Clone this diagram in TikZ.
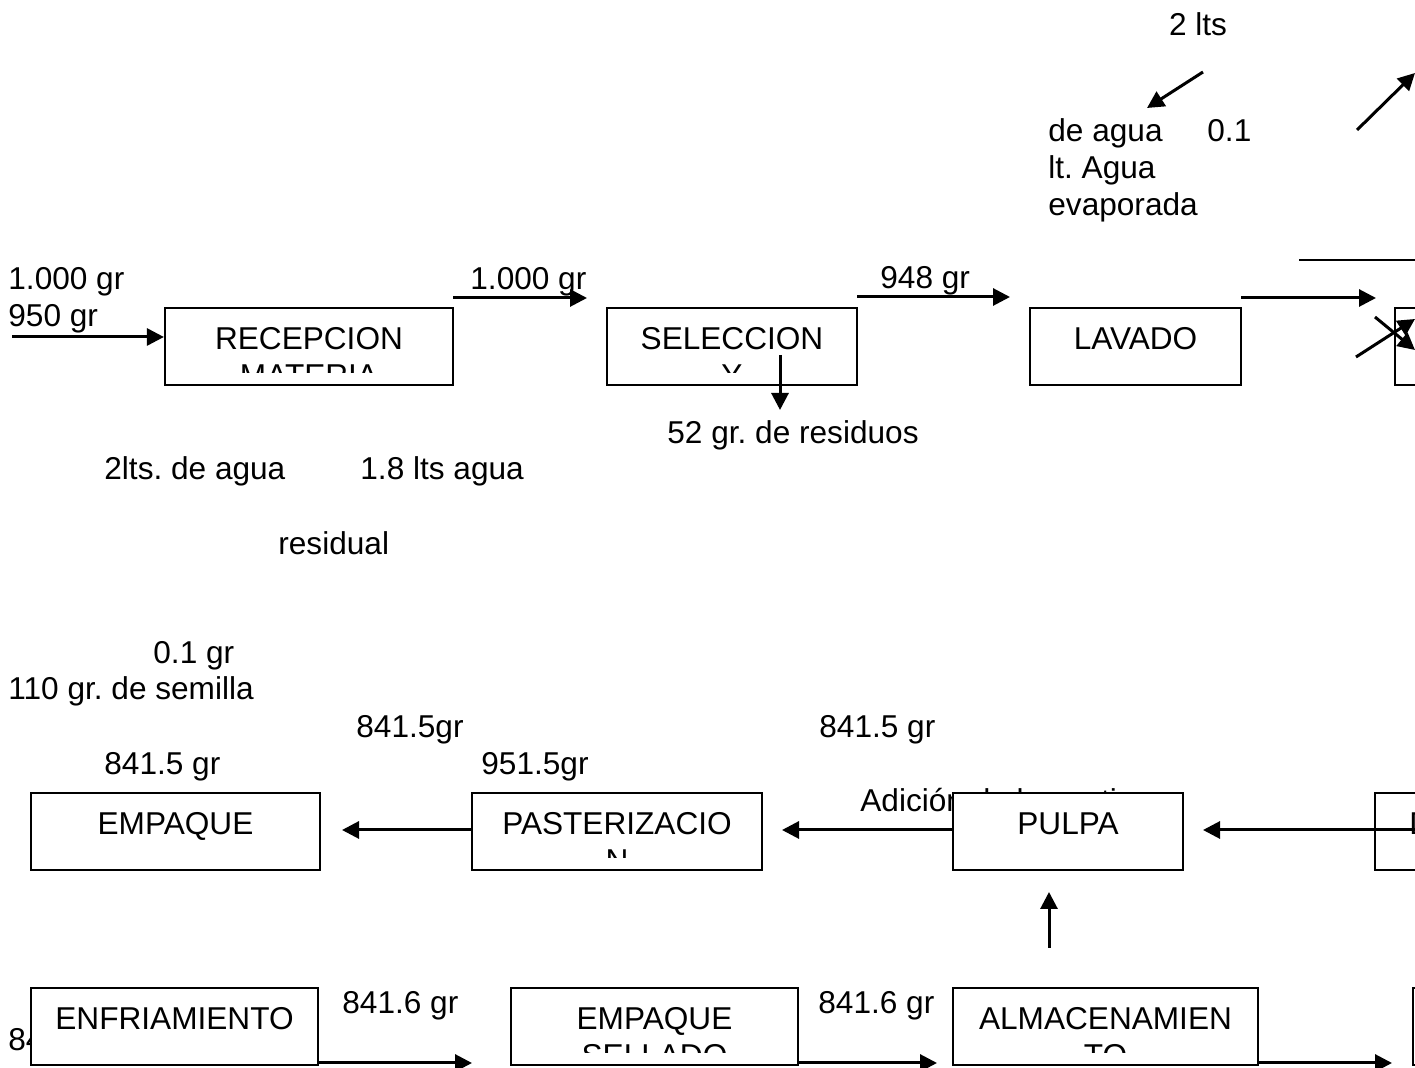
\documentclass[tikz,border=0pt]{standalone}
\usepackage{fontspec}
\setmainfont{Liberation Sans}
\usetikzlibrary{arrows.meta,fit}
\frenchspacing
\begin{document}
\begin{tikzpicture}[x=0.5pt,y=-0.5pt,
  lbl/.style={inner sep=0pt, font=\fontsize{15.8pt}{18.3pt}\selectfont},
  box/.style={draw, line width=1.1pt, fill=white, inner sep=0pt},
  flow/.style={line width=1.5pt, -{Triangle[length=8.5pt,width=8.5pt]}},
  plain/.style={line width=1.1pt}]
\useasboundingbox (0,0) rectangle (1415,1068);

% ---------- top texts ----------
\node[lbl, anchor=base] (t2lts) at (1198,36) {2 lts};
\node[lbl, anchor=base west] (tdeagua) at (1048,142) {de agua};
\node[lbl, anchor=base west] (t01) at (1207,142) {0.1};
\node[lbl, anchor=base west] (tltagua) at (1048,179) {lt. Agua};
\node[lbl, anchor=base west] (tevap) at (1048,216) {evaporada};

\node[lbl, anchor=base west] (tin1) at (8,290) {1.000 gr};
\node[lbl, anchor=base west] (tin2) at (8,327) {950 gr};
\node[lbl, anchor=base west] (t1000) at (470,290) {1.000 gr};
\node[lbl, anchor=base west] (t948) at (880,289) {948 gr};
\node[lbl, anchor=base] (tres) at (793,444) {52 gr. de residuos};
\node[lbl, anchor=base west] (t2ltsagua) at (104,480) {2lts. de agua};
\node[lbl, anchor=base west] (t18) at (360,480) {1.8 lts agua};
\node[lbl, anchor=base west] (tresid) at (278,555) {residual};

% ---------- top row boxes ----------
\node[box, fit={(165,308) (453,385)}] (recep) {};
\node[lbl, anchor=base] at (309,350) {RECEPCION};
\begin{scope}\clip (165,308) rectangle (453,373);
\node[lbl, anchor=base] at (309,386.5) {MATERIA};\end{scope}

\node[box, fit={(607,308) (857,385)}] (selec) {};
\node[lbl, anchor=base] at (732,350) {SELECCION};
\begin{scope}\clip (607,308) rectangle (857,373);
\node[lbl, anchor=base] at (732,386.5) {Y};\end{scope}

\node[box, fit={(1030,308) (1241,385)}] (lavado) {};
\node[lbl, anchor=base] at (1135.5,350) {LAVADO};

\node[box, fit={(1395,308) (1500,385)}] (rbox1) {};

% ---------- top row connectors ----------
\coordinate (inA) at (12,337);
\draw[flow] (inA) -- (recep.west |- inA);
\coordinate (a2s) at (453,298); \coordinate (a2e) at (587,298);
\draw[flow] (a2s) -- (a2e);
\coordinate (a3s) at (857,297); \coordinate (a3e) at (1010,297);
\draw[flow] (a3s) -- (a3e);
\coordinate (a4s) at (1241,298); \coordinate (a4e) at (1376,298);
\draw[flow] (a4s) -- (a4e);
\coordinate (l1s) at (1299,260); \coordinate (l1e) at (1415,260);
\draw[plain] (l1s) -- (l1e);
\coordinate (rs) at (780,355); \coordinate (re) at (780,410);
\draw[flow] (rs) -- (re);
\coordinate (w1s) at (1203,72); \coordinate (w1e) at (1147,108);
\draw[flow] (w1s) -- (w1e);
\coordinate (w2s) at (1357,130); \coordinate (w2e) at (1415,73);
\draw[flow] (w2s) -- (w2e);
\coordinate (x1s) at (1356,357); \coordinate (x1e) at (1415,319);
\draw[flow] (x1s) -- (x1e);
\coordinate (x2s) at (1375,317); \coordinate (x2e) at (1415,350);
\draw[flow] (x2s) -- (x2e);

% ---------- middle texts ----------
\node[lbl, anchor=base west] (t01gr) at (153,664) {0.1 gr};
\node[lbl, anchor=base west] (tsem) at (8,700) {110 gr. de semilla};
\node[lbl, anchor=base west] (t8415a) at (356,738) {841.5gr};
\node[lbl, anchor=base west] (t8415b) at (819,738) {841.5 gr};
\node[lbl, anchor=base west] (t8415c) at (104,775) {841.5 gr};
\node[lbl, anchor=base west] (t9515) at (481,775) {951.5gr};
\node[lbl, anchor=base west] (tadic) at (860,812) {Adición de la pectina};

% ---------- middle row boxes ----------
\node[box, fit={(31,793) (320,870)}] (empaque) {};
\node[lbl, anchor=base] at (175.5,835) {EMPAQUE};

\node[box, fit={(472,793) (762,870)}] (paste) {};
\node[lbl, anchor=base] at (617,835) {PASTERIZACIO};
\begin{scope}\clip (472,793) rectangle (762,858);
\node[lbl, anchor=base] at (617,871.5) {N};\end{scope}

\node[box, fit={(953,793) (1183,870)}] (pulpa) {};
\node[lbl, anchor=base] at (1068,835) {PULPA};

\node[box, fit={(1375,793) (1600,870)}] (dbox) {};
\node[lbl, anchor=base west] at (1409,835) {D};

% ---------- middle row connectors ----------
\coordinate (m1e) at (342,830);
\draw[flow] (paste.west |- m1e) -- (m1e);
\coordinate (m2e) at (782,830);
\draw[flow] (pulpa.west |- m2e) -- (m2e);
\coordinate (m3s) at (1415,830); \coordinate (m3e) at (1203,830);
\draw[flow] (m3s) -- (m3e);
\coordinate (us) at (1049,948); \coordinate (ue) at (1049,892);
\draw[flow] (us) -- (ue);

% ---------- bottom row ----------
\node[lbl, anchor=base west] (t84) at (8,1051) {841.6 gr};
\node[lbl, anchor=base west] (t8416a) at (342,1014) {841.6 gr};
\node[lbl, anchor=base west] (t8416b) at (818,1014) {841.6 gr};

\node[box, fit={(31,988) (318,1065)}] (enfr) {};
\node[lbl, anchor=base] at (174.5,1030) {ENFRIAMIENTO};

\node[box, fit={(511,988) (798,1065)}] (sell) {};
\node[lbl, anchor=base] at (654.5,1030) {EMPAQUE};
\begin{scope}\clip (511,988) rectangle (798,1053);
\node[lbl, anchor=base] at (654.5,1066.5) {SELLADO};\end{scope}

\node[box, fit={(953,988) (1258,1065)}] (almac) {};
\node[lbl, anchor=base] at (1105.5,1030) {ALMACENAMIEN};
\begin{scope}\clip (953,988) rectangle (1258,1053);
\node[lbl, anchor=base] at (1105.5,1066.5) {TO};\end{scope}

\node[box, fit={(1413,988) (1600,1065)}] (rbox2) {};

\coordinate (b1e) at (472,1063);
\draw[flow] (enfr.east |- b1e) -- (b1e);
\coordinate (b2e) at (937,1063);
\draw[flow] (sell.east |- b2e) -- (b2e);
\coordinate (b3e) at (1392,1063);
\draw[flow] (almac.east |- b3e) -- (b3e);
\end{tikzpicture}
\end{document}
